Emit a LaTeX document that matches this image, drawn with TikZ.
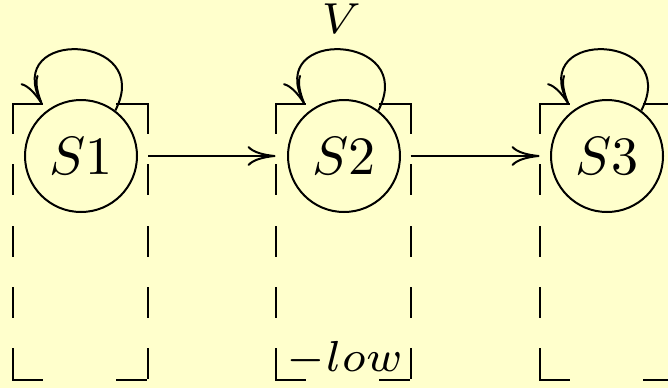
\documentclass[tikz,border=0pt]{standalone}
\usepackage{graphicx}
\usetikzlibrary{arrows.meta}
\definecolor{bgyellow}{RGB}{255,255,204}
\newcommand{\stlabel}[1]{\scalebox{2.7}{$#1$}}
\newcommand{\trlabel}[1]{\scalebox{3.1}{$\scriptstyle #1$}}

\begin{document}
\begin{tikzpicture}[x=0.5pt, y=0.5pt, line width=1pt,
    state/.style={circle, draw, minimum size=56pt, inner sep=0pt},
    stbox/.style={minimum width=66.5pt, minimum height=137pt, inner sep=0pt},
    vside/.style={dash pattern=on 14.5pt off 16.125pt, line cap=rect},
    hside/.style={dash pattern=on 14.5pt off 37.5pt, line cap=rect},
    trans/.style={-{To[length=14pt,width=10pt]}}]

    % Background
    \useasboundingbox (0,0) rectangle (668,388);
    \fill[bgyellow] (0,0) rectangle (668,388);
    \clip (0,0) rectangle (668,388);

    % Boxes around the states
    \node[stbox] (b1) at (80.5,146) {};
    \node[stbox] (b2) at (343,146) {};
    \node[stbox] (b3) at (607,146) {};
    \foreach \i in {1,2,3} {
        \draw[vside] (b\i.north west) -- (b\i.south west);
        \draw[vside] (b\i.north east) -- (b\i.south east);
        \draw[hside] (b\i.north west) -- (b\i.north east);
        \draw[hside] (b\i.south west) -- (b\i.south east);
        \coordinate (in\i) at ([xshift=14.5pt]b\i.north west);
    }

    % States
    \node[state] (S1) at (81,232) {\stlabel{S1}};
    \node[state] (S2) at (344,232) {\stlabel{S2}};
    \node[state] (S3) at (607,232) {\stlabel{S3}};

    % Self loops
    \draw[trans] (S1.53) .. controls +(40,77) and +(-40,77) .. (in1);
    \draw[trans] (S2.53) .. controls +(40,77) and +(-40,77) .. node[above=4pt, pos=.5] (vlbl) {\trlabel{V}} (in2);
    \draw[trans] (S3.53) .. controls +(40,77) and +(-40,77) .. (in3);

    % Transitions
    \draw[trans] (b1.east |- S1) -- (b2.west |- S2);
    \draw[trans] (b2.east |- S2) -- (b3.west |- S3);

    % Box label
    \node[anchor=base] (lowlbl) at ([xshift=1pt,yshift=4.5pt]b2.south) {\trlabel{-low}};

\end{tikzpicture}
\end{document}
